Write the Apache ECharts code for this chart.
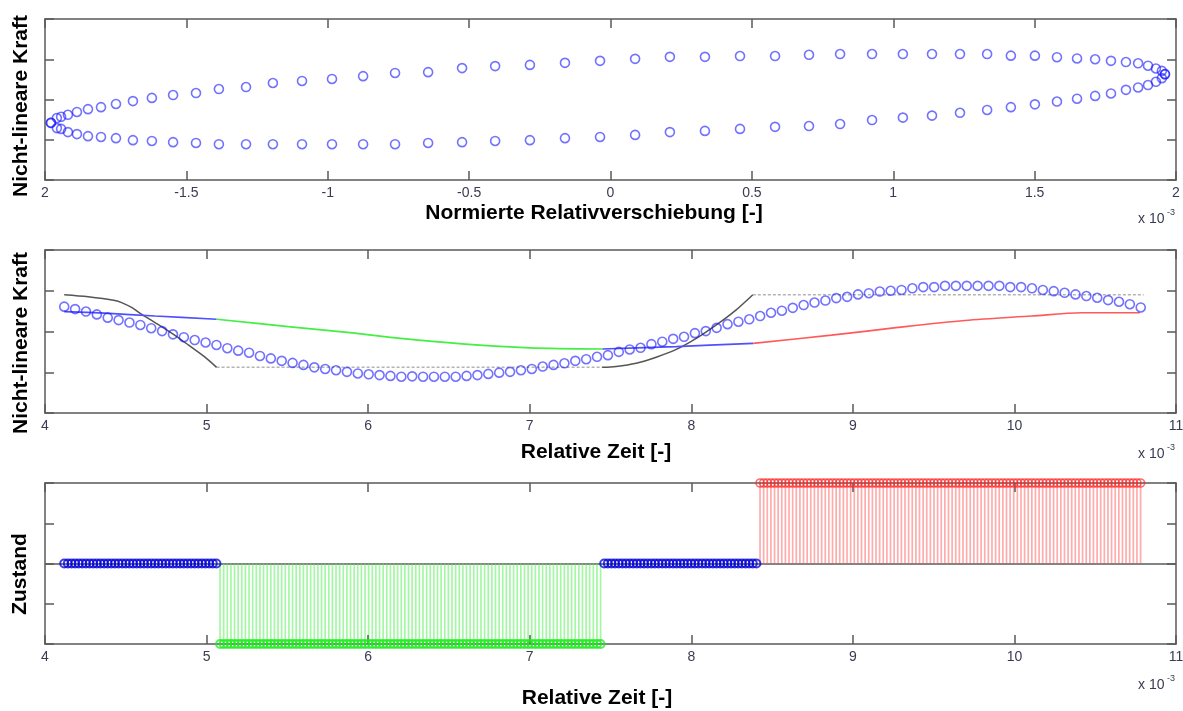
<!DOCTYPE html>
<html>
<head>
<meta charset="utf-8">
<script src="https://cdn.jsdelivr.net/npm/echarts@6/dist/echarts.min.js"></script>
<style>
  html, body { margin: 0; padding: 0; background: #ffffff; }
  #chart { width: 1183px; height: 711px; }
</style>
</head>
<body>
<div id="chart"></div>
<script>
// ---------- Panel 1: hysteresis loop (x in units of 1e-3) ----------
const loopX = [-1.979,-1.958,-1.943,-1.919,-1.887,-1.848,-1.802,-1.749,-1.689,-1.622,
  -1.547,-1.466,-1.385,-1.289,-1.194,-1.091,-0.985,-0.875,-0.762,-0.645,
  -0.525,-0.408,-0.285,-0.161,-0.037,0.087,0.210,0.334,0.458,0.582,
  0.702,0.812,0.925,1.034,1.137,1.236,1.332,1.416,1.501,1.579,
  1.650,1.714,1.770,1.823,1.866,1.901,1.929,1.950,1.961];
const loopUpper = [-0.58,-0.46,-0.43,-0.38,-0.31,-0.24,-0.19,-0.11,-0.04,0.04,
  0.11,0.16,0.26,0.31,0.41,0.46,0.51,0.58,0.66,0.68,
  0.78,0.83,0.86,0.91,0.96,1.01,1.06,1.06,1.08,1.08,
  1.11,1.13,1.13,1.13,1.13,1.13,1.13,1.09,1.09,1.05,
  1.02,1.00,0.96,0.93,0.90,0.84,0.77,0.71,0.63];
const loopLower = [-0.58,-0.71,-0.73,-0.81,-0.86,-0.91,-0.93,-0.96,-1.01,-1.03,
  -1.06,-1.08,-1.11,-1.11,-1.11,-1.11,-1.11,-1.11,-1.11,-1.08,
  -1.06,-1.03,-1.01,-0.96,-0.93,-0.88,-0.81,-0.78,-0.73,-0.68,
  -0.66,-0.61,-0.51,-0.45,-0.40,-0.33,-0.26,-0.19,-0.12,-0.05,
  0.02,0.09,0.15,0.24,0.30,0.36,0.44,0.53,0.63];
const loopTickLabels = ['2','-1.5','-1','-0.5','0','0.5','1','1.5','2'];

// ---------- Panel 2: force over time (t in units of 1e-3) ----------
const forceStart = 4.119;
const forceStep = 0.0673;
const forceValues = [0.61,0.55,0.49,0.42,0.34,0.28,0.22,0.16,0.08,0.01,
  -0.07,-0.14,-0.21,-0.27,-0.33,-0.41,-0.47,-0.52,-0.60,-0.66,
  -0.72,-0.77,-0.82,-0.88,-0.92,-0.95,-0.99,-1.03,-1.05,-1.07,
  -1.09,-1.11,-1.10,-1.11,-1.11,-1.11,-1.11,-1.09,-1.07,-1.04,
  -1.01,-0.99,-0.95,-0.92,-0.86,-0.82,-0.78,-0.72,-0.68,-0.62,
  -0.58,-0.50,-0.44,-0.40,-0.31,-0.25,-0.18,-0.13,-0.04,0.01,
  0.09,0.18,0.24,0.30,0.38,0.46,0.51,0.58,0.65,0.71,
  0.76,0.82,0.85,0.91,0.94,0.98,1.00,1.02,1.06,1.09,
  1.09,1.12,1.12,1.12,1.12,1.12,1.12,1.09,1.09,1.06,
  1.02,0.99,0.95,0.91,0.87,0.83,0.77,0.73,0.67,0.59];
const envelopeFall = [[4.119,0.90],[4.267,0.85],[4.433,0.76],[4.474,0.71],[4.536,0.59],[4.587,0.45],
  [4.681,0.22],[4.784,-0.04],[4.887,-0.33],[4.990,-0.63],[5.062,-0.88]];
const envelopeRise = [[7.448,-0.88],[7.535,-0.86],[7.659,-0.78],[7.783,-0.63],[7.907,-0.44],
  [8.031,-0.17],[8.155,0.16],[8.278,0.53],[8.381,0.90]];
const plateauLow = [[5.062,-0.88],[7.448,-0.88]];
const plateauHigh = [[8.381,0.90],[10.80,0.90]];
const pathBlueA = [[4.119,0.49],[4.371,0.45],[4.681,0.38],[5.062,0.30]];
const pathGreen = [[5.062,0.30],[5.505,0.12],[5.918,-0.04],[6.200,-0.17],[6.600,-0.31],[7.000,-0.40],[7.450,-0.43]];
const pathBlueB = [[7.450,-0.43],[7.907,-0.37],[8.383,-0.29]];
const pathRed = [[8.383,-0.29],[8.868,-0.09],[9.280,0.10],[9.693,0.27],[10.106,0.38],[10.415,0.46],[10.776,0.46]];
const timeTickLabels = ['4','5','6','7','8','9','10','11'];

// ---------- Panel 3: state per sample, as runs of [state, sample count] ----------
const stateStart = 4.119;
const stateStep = 0.02243;
const stateRuns = [[0, 43], [-1, 106], [0, 43], [1, 106]];

// ---------- build series data ----------
const loopData = loopX.map((x, i) => [x, loopUpper[i]])
  .concat(loopX.map((x, i) => [x, loopLower[i]]));
const forceData = forceValues.map((v, i) => [forceStart + i * forceStep, v]);

const stateSamples = [];
{
  let k = 0;
  for (const [state, count] of stateRuns) {
    for (let j = 0; j < count; j++, k++) stateSamples.push([stateStart + k * stateStep, state]);
  }
}
const stateZero = stateSamples.filter(d => d[1] === 0);
const stateNeg = stateSamples.filter(d => d[1] === -1);
const statePos = stateSamples.filter(d => d[1] === 1);

// ---------- styling helpers ----------
const FONT = '"Liberation Sans", Arial, sans-serif';
const frame = { color: '#5a5a5a', width: 1.5 };
const tickColor = '#3a3a52';

function panelAxes(grid, min, max, step, yMin, yMax, yStep, labels) {
  const common = {
    type: 'value', gridIndex: grid, min: min, max: max, interval: step,
    axisLine: { show: true, onZero: false, lineStyle: frame },
    axisTick: { show: true, inside: true, length: 9, lineStyle: frame },
    splitLine: { show: false }, z: 3
  };
  const xs = [
    Object.assign({}, common, {
      position: 'bottom',
      axisLabel: {
        show: true, margin: 6, fontSize: 14, fontFamily: FONT, color: tickColor,
        formatter: v => labels[Math.round((v - min) / step)]
      }
    }),
    Object.assign({}, common, { position: 'top', axisLabel: { show: false } })
  ];
  const yCommon = Object.assign({}, common, { min: yMin, max: yMax, interval: yStep, axisLabel: { show: false } });
  const ys = [
    Object.assign({}, yCommon, { position: 'left' }),
    Object.assign({}, yCommon, { position: 'right' })
  ];
  return { xs, ys };
}

const a1 = panelAxes(0, -2, 2, 0.5, -2, 2, 1, loopTickLabels);
const a2 = panelAxes(1, 4, 11, 1, -2, 2, 1, timeTickLabels);
const a3 = panelAxes(2, 4, 11, 1, -1, 1, 0.5, timeTickLabels);

const ringStyle = { color: 'rgba(0,0,0,0)', borderColor: 'rgba(20,20,255,0.75)', borderWidth: 1.6 };

function stemSeries(data, color) {
  return {
    type: 'custom', xAxisIndex: 4, yAxisIndex: 4, z: 2, silent: true,
    data: data, encode: { x: 0, y: 1 },
    renderItem: (params, api) => {
      const p0 = api.coord([api.value(0), 0]);
      const p1 = api.coord([api.value(0), api.value(1)]);
      return { type: 'line', shape: { x1: p0[0], y1: p0[1], x2: p1[0], y2: p1[1] },
               style: { stroke: color, lineWidth: 1.7 } };
    }
  };
}

function lineSeries(data, color, width, type, smooth) {
  return {
    type: 'line', xAxisIndex: 2, yAxisIndex: 2, data: data, showSymbol: false, symbol: 'none',
    smooth: smooth || false, silent: true, z: 2,
    lineStyle: { color: color, width: width, type: type || 'solid' }
  };
}

function markerSeries(data, border, xi, size, width) {
  return {
    type: 'scatter', xAxisIndex: xi, yAxisIndex: xi, data: data, symbol: 'circle',
    symbolSize: size, clip: false, silent: true, z: 4,
    itemStyle: { color: 'rgba(0,0,0,0)', borderColor: border, borderWidth: width }
  };
}

const titleFont = 'bold 21px ' + FONT;
function title(text, x, y, rotate) {
  return { type: 'text', x: x, y: y, rotation: rotate ? Math.PI / 2 : 0, silent: true,
    style: { text: text, font: titleFont, fill: '#000', align: 'center', verticalAlign: 'middle' } };
}
function scaleNote(y) {
  return [
    { type: 'text', x: 1138, y: y, silent: true,
      style: { text: 'x 10', font: '14px ' + FONT, fill: tickColor, align: 'left', verticalAlign: 'middle' } },
    { type: 'text', x: 1167, y: y - 6, silent: true,
      style: { text: '-3', font: '9px ' + FONT, fill: tickColor, align: 'left', verticalAlign: 'middle' } }
  ];
}

const option = {
  animation: false,
  backgroundColor: '#ffffff',
  grid: [
    { left: 45, top: 19, width: 1131, height: 161, outerBoundsMode: 'none' },
    { left: 45, top: 250, width: 1131, height: 163, outerBoundsMode: 'none' },
    { left: 45, top: 483, width: 1131, height: 161, outerBoundsMode: 'none' }
  ],
  xAxis: [].concat(a1.xs, a2.xs, a3.xs),
  yAxis: [].concat(a1.ys, a2.ys, a3.ys),
  series: [
    {
      type: 'scatter', xAxisIndex: 0, yAxisIndex: 0, data: loopData, symbol: 'circle',
      symbolSize: 9, silent: true, z: 4, itemStyle: ringStyle
    },
    lineSeries(plateauLow, '#b4b4b4', 1.5, [3, 2]),
    lineSeries(plateauHigh, '#b4b4b4', 1.5, [3, 2]),
    lineSeries(envelopeFall, '#555555', 1.5, 'solid', 0.3),
    lineSeries(envelopeRise, '#555555', 1.5, 'solid', 0.3),
    lineSeries(pathBlueA, '#5050ff', 1.7, 'solid', 0.3),
    lineSeries(pathGreen, '#44ee44', 1.7, 'solid', 0.3),
    lineSeries(pathBlueB, '#5050ff', 1.7, 'solid', 0.3),
    lineSeries(pathRed, '#ff5a5a', 1.7, 'solid', 0.3),
    {
      type: 'scatter', xAxisIndex: 2, yAxisIndex: 2, data: forceData, symbol: 'circle',
      symbolSize: 9, silent: true, z: 4, itemStyle: ringStyle
    },
    stemSeries(stateNeg, 'rgba(90,240,90,0.55)'),
    stemSeries(statePos, 'rgba(255,90,90,0.5)'),
    Object.assign(markerSeries(stateZero, 'rgba(0,0,215,0.95)', 4, 8, 2), {
      markLine: {
        silent: true, symbol: 'none', z: 1, label: { show: false },
        lineStyle: { color: '#5a5a5a', width: 1.5, type: 'solid' },
        data: [{ yAxis: 0 }]
      }
    }),
    markerSeries(stateNeg, 'rgba(30,235,30,0.95)', 4, 8, 2),
    markerSeries(statePos, 'rgba(255,40,40,0.85)', 4, 8, 1.6)
  ],
  graphic: [
    title('Normierte Relativverschiebung [-]', 594, 213),
    title('Relative Zeit [-]', 596, 452),
    title('Relative Zeit [-]', 597, 698),
    title('Nicht-lineare Kraft', 21, 106, true),
    title('Nicht-lineare Kraft', 21, 343, true),
    title('Zustand', 20, 574, true)
  ].concat(scaleNote(219), scaleNote(454), scaleNote(685))
};

const chart = echarts.init(document.getElementById('chart'), null, { renderer: 'canvas' });
chart.setOption(option);
</script>
</body>
</html>
